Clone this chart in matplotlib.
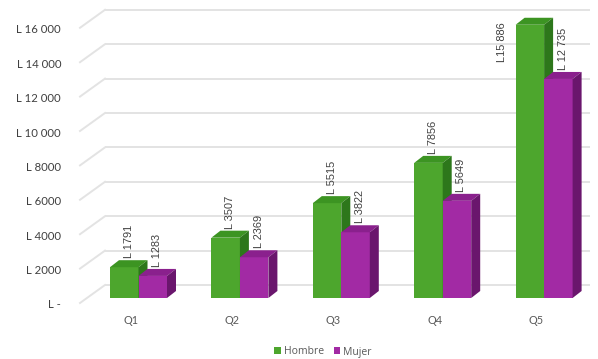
import matplotlib
matplotlib.use("Agg")
import matplotlib.pyplot as plt
from matplotlib.patches import Rectangle, Polygon, Patch

# ---- data ----
categories = ["Q1", "Q2", "Q3", "Q4", "Q5"]
hombre = [1791, 3507, 5515, 7856, 15886]
mujer = [1283, 2369, 3822, 5649, 12735]
hombre_labels = ["L 1791", "L 3507", "L 5515", "L 7856", "L15 886"]
mujer_labels = ["L 1283", "L 2369", "L 3822", "L 5649", "L 12 735"]
tick_values = [0, 2000, 4000, 6000, 8000, 10000, 12000, 14000, 16000]
tick_labels = ["L -", "L 2000", "L 4000", "L 6000", "L 8000",
               "L 10 000", "L 12 000", "L 14 000", "L 16 000"]
series_names = ["Hombre", "Mujer"]

# ---- styling ----
W, H, DPI = 598, 359, 100
PX_X = 101.4      # pixels per category step
PX_Y = 0.0172     # pixels per value unit
X0_PX, Y0_PX = 138.5, 298.0   # pixel position of category 0 / value 0 (bar front plane)

GREEN = ("#4da62d", "#3c9422", "#2d771b")   # front, top, side
PURPLE = ("#a22aa4", "#8a208d", "#6a166d")
GRID = "#e3e3e3"
TXT = "#404040"


def dx(px):
    """Horizontal pixel distance expressed in category units."""
    return px / PX_X


def dy(px):
    """Vertical pixel distance expressed in value units."""
    return px / PX_Y


fig = plt.figure(figsize=(W / DPI, H / DPI), dpi=DPI)
ax = fig.add_axes([0, 0, 1, 1])
ax.set_xlim(-X0_PX / PX_X, (W - X0_PX) / PX_X)
ax.set_ylim((Y0_PX - H) / PX_Y, Y0_PX / PX_Y)
ax.axis("off")

# ---- back wall and floor grid ----
wall_left, wall_right = dx(87 - X0_PX), dx(572 - X0_PX)
back = (dx(18), dy(13))
front = (dx(-7), dy(-5))
for v, lab in zip(tick_values, tick_labels):
    ax.plot([wall_left + back[0], wall_right + back[0]], [v + back[1]] * 2,
            color=GRID, lw=1.4, zorder=1, solid_capstyle="butt")
    ax.plot([wall_left + front[0], wall_left + back[0]],
            [v + front[1], v + back[1]], color=GRID, lw=1.4, zorder=1)
    ax.text(dx(61 - X0_PX), v + front[1] - dy(2), lab, ha="right", va="center",
            fontsize=8.2, family="Lato", color=TXT)

# ---- 3D-looking bars ----
bw = dx(28.5)
depth = (dx(9), dy(7))


def bar3d(x, v, colors, z):
    f, t, s = colors
    ax.add_patch(Rectangle((x, 0), bw, v, facecolor=f, edgecolor="none", zorder=z))
    ax.add_patch(Polygon([(x, v), (x + bw, v), (x + bw + depth[0], v + depth[1]),
                          (x + depth[0], v + depth[1])],
                         closed=True, facecolor=t, edgecolor="none", zorder=z))
    ax.add_patch(Polygon([(x + bw, 0), (x + bw + depth[0], depth[1]),
                          (x + bw + depth[0], v + depth[1]), (x + bw, v)],
                         closed=True, facecolor=s, edgecolor="none", zorder=z))


for i, (h, m) in enumerate(zip(hombre, mujer)):
    bar3d(i - bw, h, GREEN, 3 + 2 * i)
    bar3d(i, m, PURPLE, 4 + 2 * i)

# ---- value labels ----
lab_kw = dict(rotation=90, fontsize=7.9, family="Liberation Sans", color=TXT, zorder=20)
for i, (h, m) in enumerate(zip(hombre, mujer)):
    top_room = Y0_PX / PX_Y - (h + depth[1])
    if top_room < dy(45):
        # not enough room above the tallest bar: place the label beside it
        ax.text(i - bw / 2 - dx(28), h + dy(3), hombre_labels[i],
                ha="center", va="top", **lab_kw)
    else:
        ax.text(i - bw / 2 + depth[0] / 2, h + depth[1] + dy(2), hombre_labels[i],
                ha="center", va="bottom", **lab_kw)
    ax.text(i + bw / 2 + depth[0] / 2, m + depth[1] + dy(2), mujer_labels[i],
            ha="center", va="bottom", **lab_kw)

# ---- category labels ----
for i, c in enumerate(categories):
    ax.text(i - dx(8), dy(-23), c, ha="center", va="center",
            fontsize=7.8, family="Lato", color="#595959")

# ---- legend ----
handles = [Patch(facecolor=GREEN[0], edgecolor="none"),
           Patch(facecolor=PURPLE[0], edgecolor="none")]
leg = fig.legend(handles, series_names, loc="center",
                 bbox_to_anchor=(323 / W, 1 - 352 / H), ncol=2, frameon=False,
                 handlelength=0.65, handleheight=0.65, handletextpad=0.3,
                 columnspacing=0.9, prop={"family": "Open Sans", "size": 7.5})
for t in leg.get_texts():
    t.set_color("#595959")

fig.savefig("out.png", dpi=DPI)
